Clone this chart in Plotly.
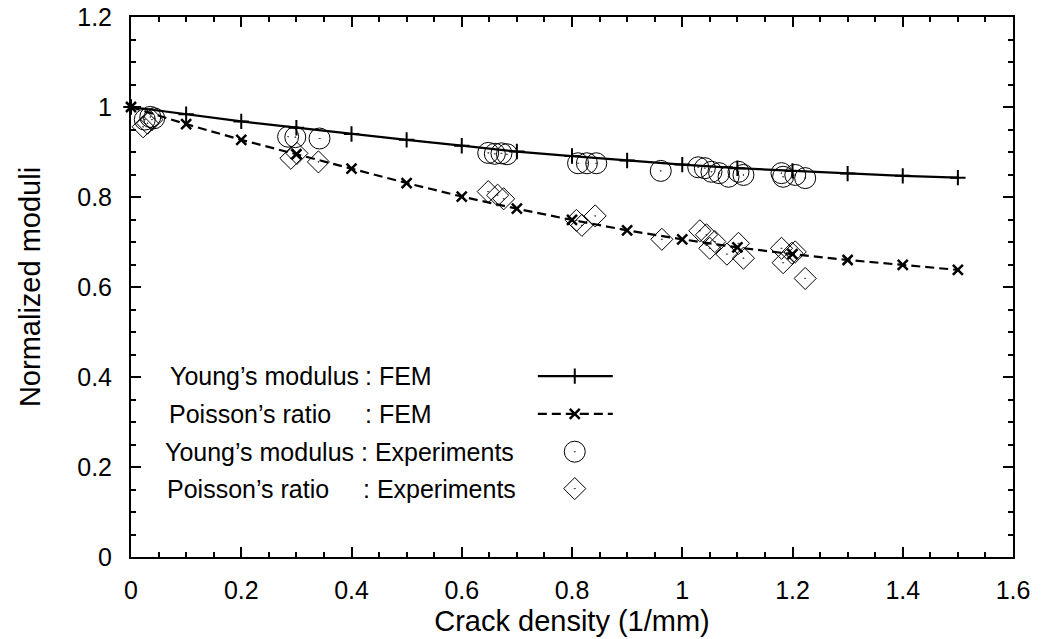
import plotly.graph_objects as go

# ---------------- data ----------------
crack_fem = [0.0, 0.1, 0.2, 0.3, 0.4, 0.5, 0.6, 0.7, 0.8, 0.9, 1.0, 1.1, 1.2, 1.3, 1.4, 1.5]
young_fem = [1.000, 0.984, 0.968, 0.954, 0.940, 0.927, 0.914, 0.901, 0.891, 0.881,
             0.872, 0.864, 0.858, 0.852, 0.847, 0.843]
poisson_fem = [1.000, 0.962, 0.927, 0.895, 0.863, 0.831, 0.801, 0.774, 0.749, 0.726,
               0.706, 0.688, 0.673, 0.660, 0.649, 0.638]

young_exp_x = [0.025, 0.035, 0.042, 0.285, 0.298, 0.342, 0.648, 0.660, 0.672, 0.682,
               0.811, 0.827, 0.844, 0.961, 1.029, 1.041, 1.053, 1.067, 1.084, 1.102,
               1.111, 1.180, 1.183, 1.205, 1.223]
young_exp_y = [0.972, 0.978, 0.975, 0.934, 0.933, 0.930, 0.898, 0.896, 0.897, 0.895,
               0.875, 0.875, 0.875, 0.858, 0.866, 0.864, 0.856, 0.853, 0.845, 0.856,
               0.849, 0.853, 0.845, 0.849, 0.842]

poisson_exp_x = [0.022, 0.030, 0.038, 0.290, 0.301, 0.340, 0.648, 0.665, 0.676, 0.808,
                 0.818, 0.842, 0.963, 1.032, 1.044, 1.050, 1.059, 1.081, 1.102, 1.111,
                 1.180, 1.183, 1.199, 1.205, 1.223]
poisson_exp_y = [0.956, 0.964, 0.972, 0.886, 0.897, 0.878, 0.812, 0.804, 0.796, 0.748,
                 0.737, 0.758, 0.706, 0.725, 0.716, 0.686, 0.701, 0.673, 0.697, 0.664,
                 0.686, 0.654, 0.675, 0.678, 0.619]

x_tick_vals = [0, 0.2, 0.4, 0.6, 0.8, 1.0, 1.2, 1.4, 1.6]
x_tick_text = ["0", "0.2", "0.4", "0.6", "0.8", "1", "1.2", "1.4", "1.6"]
y_tick_vals = [0, 0.2, 0.4, 0.6, 0.8, 1.0, 1.2]
y_tick_text = ["0", "0.2", "0.4", "0.6", "0.8", "1", "1.2"]

legend_names = ["Young\u2019s modulus", "Poisson\u2019s ratio",
                "Young\u2019s modulus", "Poisson\u2019s ratio"]
legend_kinds = [": FEM", ": FEM", ": Experiments", ": Experiments"]

# ---------------- styling / layout constants ----------------
FONT = "Liberation Sans, Arial, Helvetica, sans-serif"
BLACK = "black"
LEG_NAME_X = [0.067, 0.065, 0.058, 0.062]
LEG_KIND_X = [0.421, 0.421, 0.413, 0.417]
LEG_ROW_Y = [0.402, 0.318, 0.234, 0.152]
LEG_SAMPLE_X = [0.738, 0.805, 0.874]

PLUS_MARKER = dict(symbol="cross-thin-open", size=11, color=BLACK, line=dict(color=BLACK, width=2))
X_MARKER = dict(symbol="x-thin-open", size=10, color=BLACK, line=dict(color=BLACK, width=2.5))
CIRCLE_MARKER = dict(symbol="circle-open-dot", size=21, color=BLACK, line=dict(color=BLACK, width=1))
DIAMOND_MARKER = dict(symbol="diamond-open-dot", size=17, color=BLACK, line=dict(color=BLACK, width=1))
SOLID = dict(color=BLACK, width=2.2)
DASHED = dict(color=BLACK, width=2.2, dash="9px,5px")

fig = go.Figure()

# FEM curves
fig.add_trace(go.Scatter(x=crack_fem, y=young_fem, mode="lines+markers",
                         line=SOLID, marker=PLUS_MARKER, showlegend=False, cliponaxis=False))
fig.add_trace(go.Scatter(x=crack_fem, y=poisson_fem, mode="lines+markers",
                         line=DASHED, marker=X_MARKER, showlegend=False, cliponaxis=False))

# Experiments
fig.add_trace(go.Scatter(x=young_exp_x, y=young_exp_y, mode="markers",
                         marker=CIRCLE_MARKER, showlegend=False))
fig.add_trace(go.Scatter(x=poisson_exp_x, y=poisson_exp_y, mode="markers",
                         marker=DIAMOND_MARKER, showlegend=False))

# custom legend samples (key on the right of the text, gnuplot style)
fig.add_trace(go.Scatter(x=[LEG_SAMPLE_X[0], LEG_SAMPLE_X[2]], y=[LEG_ROW_Y[0]] * 2, mode="lines",
                         line=SOLID, showlegend=False, hoverinfo="skip"))
fig.add_trace(go.Scatter(x=[LEG_SAMPLE_X[1]], y=[LEG_ROW_Y[0]], mode="markers",
                         marker=PLUS_MARKER, showlegend=False, hoverinfo="skip"))
fig.add_trace(go.Scatter(x=[LEG_SAMPLE_X[0], LEG_SAMPLE_X[2]], y=[LEG_ROW_Y[1]] * 2, mode="lines",
                         line=DASHED, showlegend=False, hoverinfo="skip"))
fig.add_trace(go.Scatter(x=[LEG_SAMPLE_X[1]], y=[LEG_ROW_Y[1]], mode="markers",
                         marker=X_MARKER, showlegend=False, hoverinfo="skip"))
fig.add_trace(go.Scatter(x=[LEG_SAMPLE_X[1]], y=[LEG_ROW_Y[2]], mode="markers",
                         marker=CIRCLE_MARKER, showlegend=False, hoverinfo="skip"))
fig.add_trace(go.Scatter(x=[LEG_SAMPLE_X[1]], y=[LEG_ROW_Y[3]], mode="markers",
                         marker=DIAMOND_MARKER, showlegend=False, hoverinfo="skip"))

annotations = []
for name, kind, nx, kx, ry in zip(legend_names, legend_kinds, LEG_NAME_X, LEG_KIND_X, LEG_ROW_Y):
    annotations.append(dict(x=nx, y=ry, xref="x", yref="y", text=name, showarrow=False,
                            xanchor="left", yanchor="middle",
                            font=dict(family=FONT, size=25, color=BLACK)))
    annotations.append(dict(x=kx, y=ry, xref="x", yref="y", text=kind, showarrow=False,
                            xanchor="left", yanchor="middle",
                            font=dict(family=FONT, size=25, color=BLACK)))

axis_common = dict(
    showline=True, linewidth=2, linecolor=BLACK, mirror="allticks",
    ticks="inside", ticklen=10, tickwidth=2, tickcolor=BLACK,
    showgrid=False, zeroline=False, automargin=False,
    tickfont=dict(family=FONT, size=25, color=BLACK),
)
minor_common = dict(dtick=0.05, tick0=0, ticks="inside", ticklen=5, tickwidth=1.5, tickcolor=BLACK)

fig.update_layout(
    width=1042, height=639,
    margin=dict(l=131, r=29, t=17, b=82),
    paper_bgcolor="white", plot_bgcolor="white",
    showlegend=False,
    font=dict(family=FONT, color=BLACK),
    annotations=annotations,
    xaxis=dict(
        range=[0, 1.6], tickmode="array", tickvals=x_tick_vals, ticktext=x_tick_text,
        minor=minor_common, ticklabelstandoff=10,
        title=dict(text="Crack density (1/mm)", font=dict(family=FONT, size=29, color=BLACK), standoff=8),
        **axis_common),
    yaxis=dict(
        range=[0, 1.2], tickmode="array", tickvals=y_tick_vals, ticktext=y_tick_text,
        minor=minor_common, ticklabelstandoff=12,
        title=dict(text="Normalized moduli", font=dict(family=FONT, size=29, color=BLACK), standoff=28),
        **axis_common),
)

fig.write_html("out.html")
